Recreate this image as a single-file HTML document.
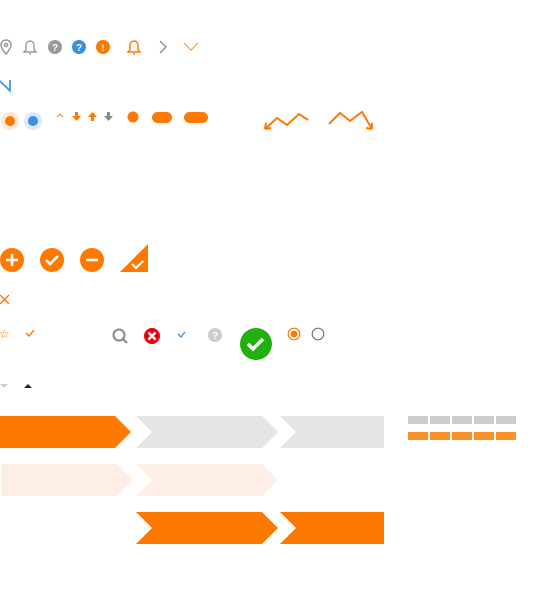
<!DOCTYPE html>
<html><head><meta charset="utf-8"><style>
body{margin:0;width:545px;height:600px;background:#fff;overflow:hidden}
svg{display:block}
</style></head><body>
<svg width="545" height="600" viewBox="0 0 545 600">
<!-- row 1 -->
<g fill="none" stroke="#999" stroke-width="1.5"><path d="M6 54 C1 48 1 46 1 45 A5 5 0 0 1 11 45 C11 46 11 48 6 54Z"/><circle cx="6" cy="45" r="1.6"/></g>
<g fill="none" stroke="#999" stroke-width="1.4"><path d="M26 50 L26 45 A4 4 0 0 1 34 45 L34 50 L36 52 L24 52Z"/><path d="M29 54 L31 54"/></g>
<g><circle cx="55" cy="47" r="7" fill="#999"/><text x="55" y="51" font-family="Liberation Sans" font-size="10" font-weight="bold" fill="#fff" text-anchor="middle">?</text></g>
<g><circle cx="79" cy="47" r="7" fill="#3a8ee6"/><text x="79" y="51" font-family="Liberation Sans" font-size="10" font-weight="bold" fill="#fff" text-anchor="middle">?</text></g>
<g><circle cx="103" cy="47" r="7" fill="#ff7800"/><text x="103" y="51" font-family="Liberation Sans" font-size="10" font-weight="bold" fill="#fff" text-anchor="middle">!</text></g>
<g fill="none" stroke="#ff7800" stroke-width="1.4"><path d="M130 50 L130 45 A4 4 0 0 1 138 45 L138 50 L140 52 L128 52Z"/><path d="M133 54 L135 54"/></g>
<path d="M160 41 L166 47 L160 53" fill="none" stroke="#888" stroke-width="1.3"/>
<path d="M184 43 L191 50 L198 43" fill="none" stroke="#ff9a40" stroke-width="1.2"/>
<path d="M0 81 L10 91 L10 80" fill="none" stroke="#3a8ee6" stroke-width="1.6"/>
<!-- row 3 -->
<g><circle cx="10" cy="121" r="9" fill="#fde8d6"/><circle cx="10" cy="121" r="5" fill="#ff7800"/></g>
<g><circle cx="33" cy="121" r="9" fill="#dcebfb"/><circle cx="33" cy="121" r="5" fill="#3a8ee6"/></g>
<path d="M57 117 L60 114 L63 117" fill="none" stroke="#ff7800" stroke-width="1"/>
<path d="M75 112 h3 v4 h3 l-4.5 5 l-4.5 -5 h3z" fill="#ff7800"/>
<path d="M91 121 h3 v-4 h3 l-4.5 -5 l-4.5 5 h3z" fill="#ff7800"/>
<path d="M107 112 h3 v4 h3 l-4.5 5 l-4.5 -5 h3z" fill="#888"/>
<circle cx="133" cy="117" r="5.5" fill="#ff7800"/>
<rect x="152" y="112" width="20" height="11" rx="5.5" fill="#ff7800"/>
<rect x="184" y="112" width="24" height="11" rx="5.5" fill="#ff7800"/>
<path d="M265 129 L277 118 L287 125 L299 114 L308 120 M265 129 l1 -6 M265 129 l6 -1" fill="none" stroke="#ff7800" stroke-width="2"/>
<path d="M329 124 L340 113 L350 121 L362 112 L372 129 M372 129 l-6 -1 M372 129 l0 -6" fill="none" stroke="#ff7800" stroke-width="2"/>
<!-- big circles -->
<g><circle cx="12" cy="260" r="12" fill="#ff7800"/><path d="M12 254v12M6 260h12" stroke="#fff" stroke-width="2.6"/></g>
<g><circle cx="52" cy="260" r="12" fill="#ff7800"/><path d="M46 260 l4 4 l8 -8" fill="none" stroke="#fff" stroke-width="2.6"/></g>
<g><circle cx="92" cy="260" r="12" fill="#ff7800"/><path d="M86 260h12" stroke="#fff" stroke-width="2.6"/></g>
<g><path d="M120 272 L148 244 L148 272Z" fill="#ff7800"/><path d="M132 264 l4 4 l7 -7" fill="none" stroke="#fff" stroke-width="2.2"/></g>
<path d="M0 295 L9 304 M9 295 L0 304" stroke="#ff7800" stroke-width="1.3"/>
<text x="-1" y="338" font-family="DejaVu Sans" font-size="12" fill="#ff7800">☆</text>
<path d="M26 333 l3 3 l5 -6" fill="none" stroke="#ff7800" stroke-width="1.4"/>
<g fill="none" stroke="#888" stroke-width="2"><circle cx="119" cy="335" r="5.5"/><path d="M123 339 l4 4"/></g>
<g><circle cx="152" cy="336" r="8" fill="#e60012"/><path d="M148.5 332.5l7 7M155.5 332.5l-7 7" stroke="#fff" stroke-width="2.4"/></g>
<path d="M178 334 l3 3 l4 -5" fill="none" stroke="#3a8ee6" stroke-width="1.3"/>
<g><circle cx="215" cy="335" r="7" fill="#ccc"/><text x="215" y="339" font-family="Liberation Sans" font-size="10" font-weight="bold" fill="#fff" text-anchor="middle">?</text></g>
<g><circle cx="256" cy="344" r="16" fill="#22b00f"/><path d="M248 344 l5 5 l10 -10" fill="none" stroke="#fff" stroke-width="3.4"/></g>
<g><circle cx="294" cy="334" r="5.8" fill="none" stroke="#ff7800" stroke-width="1.2"/><circle cx="294" cy="334" r="3.4" fill="#ff7800"/></g>
<circle cx="318" cy="334" r="5.8" fill="none" stroke="#777" stroke-width="1.2"/>
<path d="M0 384 h8 l-4 4z" fill="#ccc"/>
<path d="M24 388 h8 l-4 -4z" fill="#222"/>
<!-- step bars -->
<path d="M0 416 H115 L131 432 L115 448 H0Z" fill="#ff7800"/>
<path d="M136 416 H262 L278 432 L262 448 H136 L152 432Z" fill="#e5e5e5"/>
<path d="M280 416 H384 V448 H280 L296 432Z" fill="#e5e5e5"/>
<path d="M1 464 H117 L133 480 L117 496 H1Z" fill="#fdefe5"/>
<path d="M136 464 H262 L278 480 L262 496 H136 L152 480Z" fill="#fdefe5"/>
<path d="M136 512 H262 L278 528 L262 544 H136 L152 528Z" fill="#ff7800"/>
<path d="M280 512 H384 V544 H280 L296 528Z" fill="#ff7800"/>
<!-- strength grid -->
<g fill="#ccc"><rect x="408" y="416" width="20" height="8"/><rect x="430" y="416" width="20" height="8"/><rect x="452" y="416" width="20" height="8"/><rect x="474" y="416" width="20" height="8"/><rect x="496" y="416" width="20" height="8"/></g>
<g fill="#fb9228"><rect x="408" y="432" width="20" height="8"/><rect x="430" y="432" width="20" height="8"/><rect x="452" y="432" width="20" height="8"/><rect x="474" y="432" width="20" height="8"/><rect x="496" y="432" width="20" height="8"/></g>
</svg>
</body></html>
